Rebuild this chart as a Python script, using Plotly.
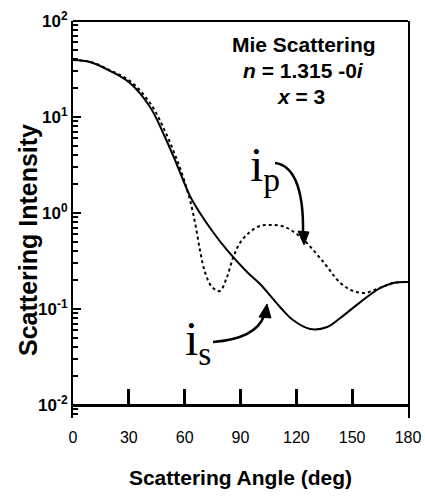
import plotly.graph_objects as go

# ---- data ----
angle_s = [0, 9.1, 19.9, 30.6, 41.4, 49.4, 55.9, 62.9, 68.2, 75.2, 82.7, 93.5, 100.5, 111.2, 118.2, 127.4, 136.6, 143.6, 154.4, 165.1, 172.1, 180]
i_s = [39.3, 37.4, 30.2, 22.6, 12.7, 6.19, 3.16, 1.50, 1.0, 0.634, 0.412, 0.243, 0.182, 0.105, 0.0767, 0.0619, 0.065, 0.0806, 0.118, 0.166, 0.187, 0.191]

angle_p = [0, 9.1, 19.9, 30.6, 41.4, 49.4, 55.9, 60.2, 62.9, 65.6, 68.2, 70.9, 74.7, 78.9, 82.7, 86, 89.7, 95, 100.5, 106, 112, 117, 124, 135, 143.6, 150.6, 157, 162, 165.1, 172.1, 180]
i_p = [39.3, 37.6, 30.6, 23.7, 14.0, 7.14, 3.56, 2.05, 1.36, 0.787, 0.412, 0.243, 0.169, 0.154, 0.215, 0.34, 0.487, 0.634, 0.733, 0.75, 0.733, 0.665, 0.523, 0.301, 0.187, 0.154, 0.147, 0.158, 0.166, 0.187, 0.191]

x_ticks = [0, 30, 60, 90, 120, 150, 180]
y_ticks = [0.01, 0.1, 1, 10, 100]
y_ticktext = ["10<sup>-2</sup>", "10<sup>-1</sup>", "10<sup>0</sup>", "10<sup>1</sup>", "10<sup>2</sup>"]
y_minor = [0.008, 0.009] + [k * 10.0 ** d for d in (-2, -1, 0, 1) for k in range(2, 10)]

# ---- layout geometry (pixels) ----
W, H = 425, 502
L, R, T, B = 73, 408, 21, 418
YMIN_LOG = -2 - 13 / 96.0


def P(px, py):
    return (px - L) / (R - L), (B - py) / (B - T)


def path(points, close=False):
    s = ""
    for k, (px, py) in enumerate(points):
        x, y = P(px, py)
        s += ("M" if k == 0 else "L") + f"{x:.4f},{y:.4f} "
    return s + ("Z" if close else "")


def curve(p0, c1, c2, p1):
    a, b, c, d = P(*p0), P(*c1), P(*c2), P(*p1)
    return (f"M{a[0]:.4f},{a[1]:.4f} C{b[0]:.4f},{b[1]:.4f} "
            f"{c[0]:.4f},{c[1]:.4f} {d[0]:.4f},{d[1]:.4f}")


fig = go.Figure()
fig.add_trace(go.Scatter(x=angle_s, y=i_s, mode="lines",
                         line=dict(color="black", width=2, shape="spline", smoothing=1.0),
                         name="i_s", showlegend=False))
fig.add_trace(go.Scatter(x=angle_p, y=i_p, mode="lines",
                         line=dict(color="black", width=2, dash="dot", shape="spline", smoothing=1.0),
                         name="i_p", showlegend=False))

shapes = []
# top frame line
shapes.append(dict(type="line", xref="paper", yref="paper", x0=0, x1=1, y0=1, y1=1,
                   line=dict(color="black", width=2)))
# curved arrow for i_p
shapes.append(dict(type="path", xref="paper", yref="paper",
                   path=curve((275, 163), (292, 165), (304, 185), (303, 234)),
                   line=dict(color="black", width=2.5)))
shapes.append(dict(type="path", xref="paper", yref="paper",
                   path=path([(298, 231), (309, 232), (304, 245)], close=True),
                   fillcolor="black", line=dict(color="black", width=1)))
# curved arrow for i_s
shapes.append(dict(type="path", xref="paper", yref="paper",
                   path=curve((213, 342), (240, 340), (258, 332), (264, 316)),
                   line=dict(color="black", width=2.5)))
shapes.append(dict(type="path", xref="paper", yref="paper",
                   path=path([(259, 317), (271, 318), (267, 304)], close=True),
                   fillcolor="black", line=dict(color="black", width=1)))
fig.update_layout(shapes=shapes)

sans = "Liberation Sans"
annos = [
    dict(text="<b>Mie Scattering</b>", pos=(304, 44), size=21, fam=sans, angle=0),
    dict(text="<b><i>n</i> = 1.315 -0<i>i</i></b>", pos=(303, 70), size=21, fam=sans, angle=0),
    dict(text="<b><i>x</i> = 3</b>", pos=(301, 96), size=21, fam=sans, angle=0),
    dict(text="i<sub>p</sub>", pos=(265, 168), size=48, fam="Liberation Serif", angle=0),
    dict(text="i<sub>s</sub>", pos=(198, 342), size=48, fam="Liberation Serif", angle=0),
    dict(text="<b>Scattering Intensity</b>", pos=(28, 240), size=25, fam=sans, angle=-90),
]
for a in annos:
    x, y = P(*a["pos"])
    fig.add_annotation(x=x, y=y, xref="paper", yref="paper", text=a["text"],
                       showarrow=False, xanchor="center", yanchor="middle",
                       textangle=a["angle"],
                       font=dict(family=a["fam"], size=a["size"], color="black"))

fig.update_layout(
    width=W, height=H,
    margin=dict(l=L, r=W - R, t=T, b=H - B, autoexpand=False),
    paper_bgcolor="white", plot_bgcolor="white",
    font=dict(family=sans, color="black"),
    xaxis=dict(range=[0, 180], tickvals=x_ticks, ticktext=[str(v) for v in x_ticks],
               anchor="free", position=13 / (B - T),
               showline=True, linecolor="black", linewidth=3, mirror=False,
               ticks="inside", ticklen=15, tickwidth=3, tickcolor="black",
               ticklabelstandoff=17, ticklabeloverflow="allow",
               tickfont=dict(size=16, family=sans),
               showgrid=False, zeroline=False,
               title=dict(text="<b>Scattering Angle (deg)</b>", standoff=25,
                          font=dict(size=21, family=sans))),
    yaxis=dict(type="log", range=[YMIN_LOG, 2], tickvals=y_ticks, ticktext=y_ticktext,
               showline=True, linecolor="black", linewidth=2, mirror=True,
               ticks="inside", ticklen=8, tickwidth=2, tickcolor="black",
               minor=dict(ticks="inside", ticklen=5, tickwidth=1.5, tickcolor="black",
                          tickvals=y_minor, showgrid=False),
               tickfont=dict(size=17, family=sans, weight="bold"),
               showgrid=False, zeroline=False),
)

fig.write_html("out.html",
               config={"displayModeBar": False},
               post_script="document.body.style.margin='0';document.body.style.overflow='hidden';")
